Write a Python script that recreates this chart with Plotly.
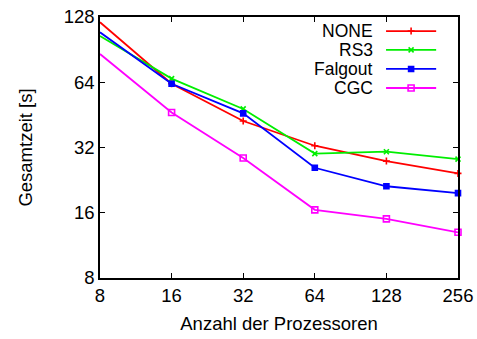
import plotly.graph_objects as go

# Processor counts and total runtime (seconds) per coarsening scheme
procs = [8, 16, 32, 64, 128, 256]
series_names = ["NONE", "RS3", "Falgout", "CGC"]
t_none = [121, 63, 42.4, 32.6, 27.7, 24.3]
t_rs3 = [104.6, 66.5, 48.2, 30.0, 30.6, 28.3]
t_falgout = [108.8, 63, 46.0, 25.8, 21.2, 19.7]
t_cgc = [86.4, 46.4, 28.6, 16.5, 15.0, 13.0]

x_ticks = [8, 16, 32, 64, 128, 256]
y_ticks = [8, 16, 32, 64, 128]

colors = ["#ff0000", "#00ee00", "#0000ff", "#ff00ff"]
symbols = ["cross-thin-open", "x-thin-open", "square", "square-open"]
msizes = [5, 5, 5, 6]

FONT = "Liberation Sans, Arial, sans-serif"
FS = 18.5

fig = go.Figure()
for name, ys, c, s, ms in zip(series_names, [t_none, t_rs3, t_falgout, t_cgc],
                              colors, symbols, msizes):
    fig.add_trace(go.Scatter(
        x=procs, y=ys, mode="lines+markers", name=name,
        line=dict(color=c, width=1.8),
        marker=dict(symbol=s, size=ms, color=c, line=dict(color=c, width=1.6)),
        showlegend=False, cliponaxis=False,
    ))

# Key drawn gnuplot-style: label on the left, line sample on the right
key_y = [0.946, 0.874, 0.801, 0.728]
for name, c, s, ms, ky in zip(series_names, colors, symbols, msizes, key_y):
    fig.add_trace(go.Scatter(
        x=[0.799, 0.869, 0.939], y=[ky, ky, ky], mode="lines+markers",
        xaxis="x2", yaxis="y2", showlegend=False, hoverinfo="skip",
        line=dict(color=c, width=1.8),
        marker=dict(symbol=s, size=ms, color=c, line=dict(color=c, width=1.6),
                    opacity=[0, 1, 0]),
    ))
    fig.add_annotation(x=0.765, y=ky, xref="paper", yref="paper",
                       text=name, showarrow=False, xanchor="right",
                       yanchor="middle", borderpad=0,
                       font=dict(size=17.5, color="black", family=FONT))

axis_common = dict(
    type="log", showgrid=False, zeroline=False, automargin=False,
    showline=True, linecolor="black", linewidth=1.5, mirror="ticks",
    ticks="inside", ticklen=5, tickwidth=1, tickcolor="black",
    tickfont=dict(size=FS, color="black", family=FONT),
)

fig.update_layout(
    width=477, height=339,
    margin=dict(l=100, r=19, t=17, b=61),
    paper_bgcolor="white", plot_bgcolor="white",
    font=dict(family=FONT, color="black"),
    xaxis=dict(
        **axis_common,
        range=[0.90309, 2.40824],
        tickvals=x_ticks, ticktext=[str(v) for v in x_ticks],
        title=dict(text="Anzahl der Prozessoren", font=dict(size=FS), standoff=12),
    ),
    yaxis=dict(
        **axis_common,
        range=[0.90309, 2.10721],
        tickvals=y_ticks, ticktext=[str(v) for v in y_ticks],
        title=dict(text="Gesamtzeit [s]", font=dict(size=FS), standoff=26),
    ),
    xaxis2=dict(overlaying="x", range=[0, 1], visible=False, anchor="y2"),
    yaxis2=dict(overlaying="y", range=[0, 1], visible=False, anchor="x2"),
)

fig.write_html("out.html")
